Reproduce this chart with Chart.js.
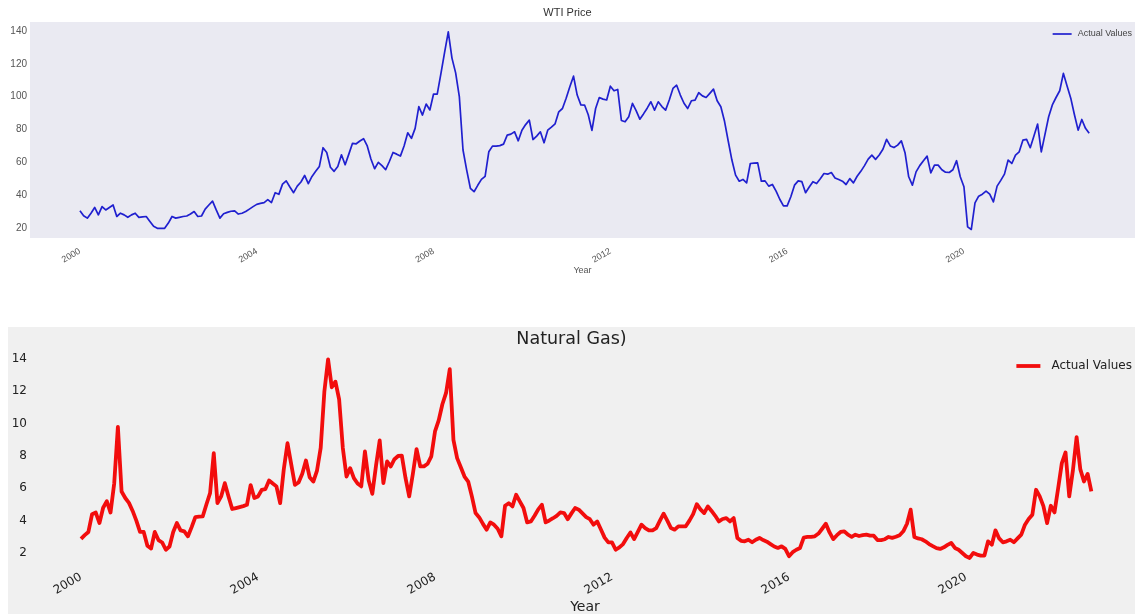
<!DOCTYPE html>
<html>
<head>
<meta charset="utf-8">
<title>WTI Price / Natural Gas</title>
<script src="https://cdn.jsdelivr.net/npm/chart.js@4.4.1/dist/chart.umd.min.js"></script>
<style>
    html, body { margin: 0; padding: 0; background: #ffffff; width: 1135px; height: 614px; overflow: hidden; }
    #wtiBox { position: absolute; left: 0; top: 0; width: 1135px; height: 290px; }
    #gasBox { position: absolute; left: 8px; top: 327px; width: 1127px; height: 300px; background: #f0f0f0; }
</style>
</head>
<body>
<div id="wtiBox"><canvas id="wtiChart" width="1135" height="290"></canvas></div>
<div id="gasBox"><canvas id="gasChart" width="1127" height="300"></canvas></div>
<script>
// monthly values, first point = Jan 2000
var startYear = 2000;
var yearTicks = [2000, 2004, 2008, 2012, 2016, 2020];

var wtiPrice = [
    30.5, 27.5, 26, 29, 32.5, 28, 33, 31, 32.5, 34, 27, 29,                  // 2000
    28, 26.5, 28, 29, 26.5, 26.8, 27, 24, 21, 19.8, 19.8, 19.8,              // 2001
    23, 27, 26, 26.5, 27, 27.3, 28.5, 30, 27, 27.3, 31.5, 34,                // 2002
    36.4, 31, 26, 28.7, 29.5, 30.2, 30.4, 28.5, 29, 30, 31.5, 33,            // 2003
    34.4, 35, 35.5, 37.3, 35.5, 41.5, 40.5, 46.7, 48.7, 45, 41.5, 45.5,      // 2004
    48, 52, 47, 51.4, 54.5, 57.5, 68.9, 66, 57, 54.5, 57.5, 64.6,            // 2005
    58.5, 65, 71.6, 71.3, 73, 74.4, 70, 62, 56.1, 60, 58, 55.5,              // 2006
    60.5, 66, 65, 63.8, 70, 78, 74.6, 80.7, 93.9, 88.8, 95.5, 91.9,          // 2007
    101.6, 101.6, 114, 127, 139.5, 123.5, 114.5, 100, 67.5, 55.3, 44.2, 42.1, // 2008
    46, 49.6, 51.5, 66.4, 69.9, 69.9, 70.2, 71.1, 76.6, 77.2, 78.6, 73.1,    // 2009
    79.6, 83, 85.7, 73.9, 76, 78.6, 71.9, 79.6, 81.5, 83.5, 90.8, 92.8,      // 2010
    99, 106, 112.5, 101, 95, 94.9, 89, 79.5, 92.8, 99.5, 98.5, 98,           // 2011
    106.4, 103.6, 104.4, 85.5, 84.7, 87.8, 95.9, 91.5, 86.3, 89.5, 93, 96.9, // 2012
    91.8, 96.9, 94, 91.8, 98, 105, 107, 101, 96, 92.8, 97.5, 97.9,           // 2013
    102.4, 100.5, 99.5, 102, 104.6, 97.5, 93.9, 85, 73, 61.4, 52.2, 48.5,    // 2014
    49.6, 47.5, 59.3, 59.5, 59.7, 48.5, 48.7, 45.5, 46.5, 42.5, 37.5, 33.5,  // 2015
    33.5, 39, 46.1, 48.7, 48.2, 41.5, 45, 48.2, 47.1, 50, 53.2, 52.8,        // 2016
    53.8, 50.5, 49.5, 48.5, 46.5, 50.1, 47.5, 51.5, 54.5, 58, 62, 64.4,      // 2017
    61.8, 64.5, 68, 74, 70, 69, 70.5, 73.1, 65.9, 51.2, 46.1, 54.2,          // 2018
    58, 61, 63.8, 53.6, 58.3, 58.3, 55.5, 54, 53.8, 55.5, 61, 51.2,          // 2019
    45.1, 20.7, 19.1, 35.3, 39.4, 40.6, 42.5, 40.6, 35.9, 45.5, 49, 52.8,    // 2020
    61.4, 59.3, 64.4, 66.4, 73.5, 74, 68.9, 76, 83.3, 66.4, 77, 87.8,        // 2021
    95, 99.5, 103.6, 114.2, 106.5, 99.1, 89, 79.6, 86.1, 80.7, 77.7          // 2022
];

var gasPrice = [
    2.87, 3.1, 3.3, 4.4, 4.5, 3.85, 4.8, 5.2, 4.5, 6.3, 9.8, 5.8,            // 2000
    5.4, 5.1, 4.6, 4.0, 3.3, 3.3, 2.45, 2.27, 3.3, 2.8, 2.65, 2.2,           // 2001
    2.4, 3.3, 3.85, 3.4, 3.34, 3.03, 3.6, 4.22, 4.25, 4.26, 5.0, 5.7,        // 2002
    8.18, 5.08, 5.5, 6.32, 5.5, 4.72, 4.78, 4.84, 4.9, 4.98, 6.2, 5.4,       // 2003
    5.5, 5.9, 5.95, 6.49, 6.3, 6.12, 5.08, 7.2, 8.79, 7.5, 6.22, 6.36,       // 2004
    6.9, 7.72, 6.69, 6.42, 7.1, 8.5, 12.0, 13.98, 12.25, 12.6, 11.5, 8.5,    // 2005
    6.73, 7.25, 6.63, 6.3, 6.12, 8.28, 6.5, 5.66, 7.4, 8.96, 6.32, 7.66,     // 2006
    7.35, 7.8, 8.0, 8.02, 6.64, 5.5, 6.9, 8.43, 7.36, 7.36, 7.52, 7.98,      // 2007
    9.52, 10.2, 11.2, 11.9, 13.37, 9.0, 7.87, 7.3, 6.73, 6.42, 5.5, 4.47,    // 2008
    4.2, 3.8, 3.44, 3.89, 3.75, 3.5, 3.03, 4.92, 5.08, 4.88, 5.6, 5.19,      // 2009
    4.78, 3.89, 3.95, 4.3, 4.7, 4.98, 3.89, 4.01, 4.15, 4.3, 4.51, 4.47,     // 2010
    4.09, 4.45, 4.78, 4.68, 4.45, 4.22, 4.09, 3.75, 3.95, 3.45, 2.95, 2.66,  // 2011
    2.66, 2.2, 2.35, 2.55, 2.93, 3.27, 2.86, 3.3, 3.75, 3.54, 3.4, 3.4,      // 2012
    3.54, 4.0, 4.43, 4.0, 3.54, 3.44, 3.65, 3.65, 3.65, 4.0, 4.4, 5.02,      // 2013
    4.7, 4.47, 4.88, 4.6, 4.3, 3.95, 4.1, 4.16, 3.95, 4.16, 2.93, 2.75,      // 2014
    2.72, 2.82, 2.66, 2.82, 2.93, 2.8, 2.7, 2.55, 2.4, 2.31, 2.41, 2.25,     // 2015
    1.8, 2.05, 2.2, 2.31, 2.95, 2.99, 3.0, 3.03, 3.2, 3.5, 3.81, 3.27,       // 2016
    2.86, 3.1, 3.3, 3.34, 3.13, 3.0, 3.13, 3.05, 3.1, 3.13, 3.07, 3.07,      // 2017
    2.8, 2.8, 2.85, 2.99, 2.93, 3.0, 3.1, 3.34, 3.81, 4.68, 2.99, 2.9,       // 2018
    2.85, 2.72, 2.55, 2.42, 2.3, 2.25, 2.35, 2.5, 2.62, 2.31, 2.2, 2.0,      // 2019
    1.8, 1.69, 2.0, 1.9, 1.84, 1.84, 2.72, 2.51, 3.4, 2.9, 2.66, 2.72,       // 2020
    2.82, 2.66, 2.9, 3.13, 3.75, 4.1, 4.37, 5.91, 5.5, 4.9, 3.85, 4.92,      // 2021
    4.51, 6.0, 7.56, 8.22, 5.5, 7.11, 9.17, 7.19, 6.42, 6.89, 5.81           // 2022
];

// turn a monthly list into {x: decimal year, y: value}
function toPoints(values) {
    return values.map(function (v, i) {
        return { x: startYear + i / 12, y: v };
    });
}

function yearLabel(value) {
    return yearTicks.indexOf(value) >= 0 ? String(value) : '';
}

// fill only the plotting area (seaborn style background)
var plotBackground = {
    id: 'plotBackground',
    beforeDraw: function (chart, args, opts) {
        var a = chart.chartArea;
        var ctx = chart.ctx;
        ctx.save();
        ctx.fillStyle = opts.color;
        ctx.fillRect(a.left, a.top, a.right - a.left, a.bottom - a.top);
        ctx.restore();
    }
};

// matplotlib-like legend in the upper right corner of the plot
var cornerLegend = {
    id: 'cornerLegend',
    afterDatasetsDraw: function (chart, args, o) {
        var ds = chart.data.datasets[0];
        var a = chart.chartArea;
        var ctx = chart.ctx;
        ctx.save();
        ctx.font = o.size + 'px ' + o.family;
        var textLeft = a.right - o.right - ctx.measureText(ds.label).width;
        var y = a.top + o.top;
        ctx.strokeStyle = ds.borderColor;
        ctx.lineWidth = ds.borderWidth;
        ctx.beginPath();
        ctx.moveTo(textLeft - o.gap - o.lineLen, y);
        ctx.lineTo(textLeft - o.gap, y);
        ctx.stroke();
        ctx.fillStyle = o.color;
        ctx.textAlign = 'left';
        ctx.textBaseline = 'middle';
        ctx.fillText(ds.label, textLeft, y);
        ctx.restore();
    }
};

// ---------- WTI Price ----------
var wtiFont = 'Liberation Sans, Arial, sans-serif';
var wtiChart = new Chart(document.getElementById('wtiChart').getContext('2d'), {
    type: 'line',
    data: {
        datasets: [{
            label: 'Actual Values',
            data: toPoints(wtiPrice),
            borderColor: '#2020cf',
            borderWidth: 1.7,
            borderJoinStyle: 'round',
            pointRadius: 0,
            tension: 0,
            fill: false
        }]
    },
    plugins: [plotBackground, cornerLegend],
    options: {
        responsive: false,
        animation: false,
        layout: { padding: 0 },
        plugins: {
            plotBackground: { color: '#eaeaf2' },
            cornerLegend: { family: wtiFont, size: 9, color: '#444444', right: 3, top: 12, gap: 6, lineLen: 19 },
            tooltip: { enabled: false },
            legend: { display: false },
            title: {
                display: true,
                text: 'WTI Price',
                color: '#333333',
                font: { family: wtiFont, size: 11, weight: 'normal', lineHeight: 1.2 },
                padding: { top: 6, bottom: 2.8 }
            }
        },
        scales: {
            x: {
                type: 'linear',
                min: 1998.87,
                max: 2023.87,
                grid: { display: false, drawTicks: false },
                border: { display: false },
                ticks: {
                    stepSize: 4,
                    includeBounds: false,
                    autoSkip: false,
                    minRotation: 30,
                    maxRotation: 30,
                    padding: 8,
                    color: '#555555',
                    font: { family: wtiFont, size: 9 },
                    callback: yearLabel
                },
                title: {
                    display: true,
                    text: 'Year',
                    color: '#555555',
                    font: { family: wtiFont, size: 9 },
                    padding: { top: 0, bottom: 13.6 }
                },
                afterFit: function (scale) { scale.height = 52; }
            },
            y: {
                min: 13.9,
                max: 145.5,
                grid: { display: false, drawTicks: false },
                border: { display: false },
                ticks: {
                    stepSize: 20,
                    includeBounds: false,
                    padding: 3,
                    color: '#555555',
                    font: { family: wtiFont, size: 10 }
                },
                afterFit: function (scale) { scale.width = 30; }
            }
        }
    }
});

// ---------- Natural Gas ----------
var gasFont = 'DejaVu Sans, sans-serif';
var gasChart = new Chart(document.getElementById('gasChart').getContext('2d'), {
    type: 'line',
    data: {
        datasets: [{
            label: 'Actual Values',
            data: toPoints(gasPrice),
            borderColor: '#f20d0d',
            borderWidth: 3.8,
            borderJoinStyle: 'round',
            pointRadius: 0,
            tension: 0,
            fill: false
        }]
    },
    plugins: [cornerLegend],
    options: {
        responsive: false,
        animation: false,
        layout: { padding: 0 },
        plugins: {
            cornerLegend: { family: gasFont, size: 12, color: '#222222', right: 3, top: 17, gap: 11, lineLen: 24 },
            tooltip: { enabled: false },
            legend: { display: false },
            title: {
                display: true,
                text: 'Natural Gas)',
                color: '#222222',
                font: { family: gasFont, size: 17.5, weight: 'normal', lineHeight: 1.1 },
                padding: { top: 2.5, bottom: 0.25 }
            }
        },
        scales: {
            x: {
                type: 'linear',
                min: 1998.96,
                max: 2023.82,
                grid: { display: false, drawTicks: false },
                border: { display: false },
                ticks: {
                    stepSize: 4,
                    includeBounds: false,
                    autoSkip: false,
                    minRotation: 30,
                    maxRotation: 30,
                    padding: 3,
                    color: '#222222',
                    font: { family: gasFont, size: 12, lineHeight: 1 },
                    callback: yearLabel
                },
                title: {
                    display: true,
                    text: 'Year',
                    color: '#222222',
                    font: { family: gasFont, size: 14 },
                    padding: { top: 0, bottom: 11.6 }
                },
                afterFit: function (scale) { scale.height = 59; }
            },
            y: {
                min: 1.07,
                max: 14.62,
                grid: { display: false, drawTicks: false },
                border: { display: false },
                ticks: {
                    stepSize: 2,
                    includeBounds: false,
                    padding: 8,
                    color: '#222222',
                    font: { family: gasFont, size: 12 }
                },
                afterFit: function (scale) { scale.width = 27; }
            }
        }
    }
});
</script>
</body>
</html>
